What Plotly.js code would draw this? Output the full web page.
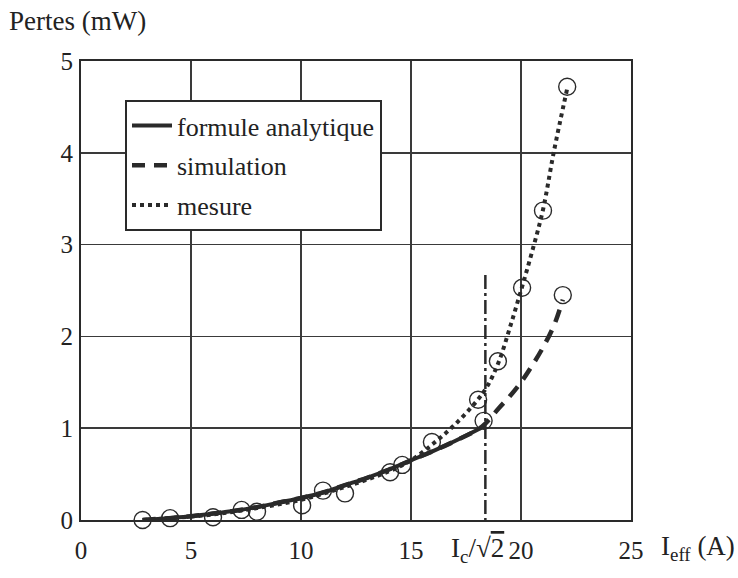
<!DOCTYPE html>
<html>
<head>
<meta charset="utf-8">
<script src="https://cdn.plot.ly/plotly-3.0.1.min.js"></script>
<style>html,body{margin:0;padding:0;background:#fff;}#chart{width:738px;height:578px;}</style>
</head>
<body>
<div id="chart"></div>
<script>
// Analytical formula
const analyticX = [2.8, 4, 5, 6, 7, 8, 9, 10, 11, 12, 13, 14, 15, 16, 17, 18, 18.38];
const analyticY = [0.0, 0.02, 0.04, 0.07, 0.10, 0.14, 0.19, 0.24, 0.30, 0.38, 0.46, 0.55, 0.65, 0.75, 0.86, 0.98, 1.03];
// Simulation
const simX = [2.8, 4, 5, 6, 7, 8, 9, 10, 11, 12, 13, 14, 15, 16, 17, 18, 18.38, 19, 19.5, 20, 20.5, 21, 21.5, 21.9];
const simY = [0.0, 0.02, 0.04, 0.07, 0.10, 0.14, 0.19, 0.24, 0.30, 0.38, 0.46, 0.55, 0.65, 0.75, 0.86, 0.98, 1.05, 1.22, 1.35, 1.5, 1.68, 1.88, 2.12, 2.4];
// Measurement (fitted dotted line)
const mesX = [2.8, 4, 6, 8, 10, 12, 14, 15, 16, 17, 18, 18.5, 19, 19.5, 20, 20.5, 21, 21.5, 22.1];
const mesY = [0.0, 0.02, 0.06, 0.13, 0.22, 0.36, 0.53, 0.65, 0.83, 1.04, 1.3, 1.47, 1.73, 2.1, 2.5, 2.92, 3.38, 4.02, 4.7];
// Measured points (circles)
const ptX = [2.8, 4.05, 6.0, 7.3, 8.0, 10.05, 11.0, 12.0, 14.05, 14.6, 15.95, 18.05, 18.3, 18.95, 20.05, 21.0, 22.1, 21.9];
const ptY = [0.0, 0.02, 0.03, 0.11, 0.09, 0.16, 0.32, 0.29, 0.52, 0.6, 0.85, 1.31, 1.08, 1.73, 2.53, 3.37, 4.72, 2.45];
// Critical current line Ic/sqrt(2)
const icX = 18.38;
const icY = [2.67, -0.22];
const xTicks = [0, 5, 10, 15, 20, 25];
const yTicks = [0, 1, 2, 3, 4, 5];
const seriesNames = ["formule analytique", "simulation", "mesure"];

const ink = "#2a2a2a";
const font = "'Liberation Serif'";

const traces = [
  {x: analyticX, y: analyticY, mode: "lines", name: seriesNames[0], legendgroup: "a",
   line: {color: ink, width: 4, dash: "solid", shape: "spline"}},
  {x: simX, y: simY, mode: "lines", name: seriesNames[1], legendgroup: "b",
   line: {color: ink, width: 4.5, dash: "13px,9px", shape: "spline"}},
  {x: mesX, y: mesY, mode: "lines", name: seriesNames[2], legendgroup: "c",
   line: {color: ink, width: 4, dash: "dot", shape: "spline"}},
  {x: ptX, y: ptY, mode: "markers", showlegend: false, hoverinfo: "skip",
   marker: {symbol: "circle-open", size: 17, color: ink, line: {width: 1.4, color: ink}}, cliponaxis: false}
];

const layout = {
  width: 738, height: 578,
  margin: {l: 81, r: 107, t: 61, b: 58},
  paper_bgcolor: "#fff", plot_bgcolor: "#fff",
  font: {family: font, size: 23, color: "#222"},
  showlegend: true,
  legend: {x: 0.08, y: 0.915, xanchor: "left", yanchor: "top",
    bgcolor: "#fff", bordercolor: ink, borderwidth: 2,
    font: {family: font, size: 26, color: "#222"},
    traceorder: "grouped", tracegroupgap: 3, itemwidth: 40},
  xaxis: {range: [0, 25], tickvals: xTicks, ticktext: xTicks.map(String), showgrid: true, gridcolor: "#3a3a3a", gridwidth: 1.5,
    zeroline: false, showline: true, linecolor: ink, linewidth: 2, mirror: true, ticks: "",
    tickfont: {family: font, size: 25, color: "#222"},
    ticklabelstandoff: 7, fixedrange: true},
  yaxis: {range: [0, 5], tickvals: yTicks, ticktext: yTicks.map(String), showgrid: true, gridcolor: "#3a3a3a", gridwidth: 1.5,
    zeroline: false, showline: true, linecolor: ink, linewidth: 2, mirror: true, ticks: "",
    tickfont: {family: font, size: 25, color: "#222"},
    ticklabelstandoff: 1, fixedrange: true},
  shapes: [
    {type: "line", xref: "x", yref: "y", x0: icX, x1: icX, y0: icY[0], y1: icY[1],
     line: {color: ink, width: 2.5, dash: "14px,4px,3px,4px"}, layer: "above"}
  ],
  annotations: [
    {xref: "paper", yref: "paper", x: -0.135, y: 1.087, xanchor: "left", yanchor: "middle",
     text: "Pertes (mW)", showarrow: false, font: {family: font, size: 27, color: "#222"}},
    {xref: "paper", yref: "paper", x: 1.05, y: -0.062, xanchor: "left", yanchor: "middle",
     text: "I<sub>eff</sub> (A)", showarrow: false, font: {family: font, size: 27, color: "#222"}},
    {xref: "x", yref: "paper", x: icX, y: -0.065, xanchor: "center", yanchor: "middle", xshift: -8,
     text: "I<sub>c</sub>/\u221A<span style=\"text-decoration:overline\">2</span>", showarrow: false,
     font: {family: font, size: 27, color: "#222"}}
  ]
};

Plotly.newPlot("chart", traces, layout, {staticPlot: true, displayModeBar: false});
</script>
</body>
</html>
